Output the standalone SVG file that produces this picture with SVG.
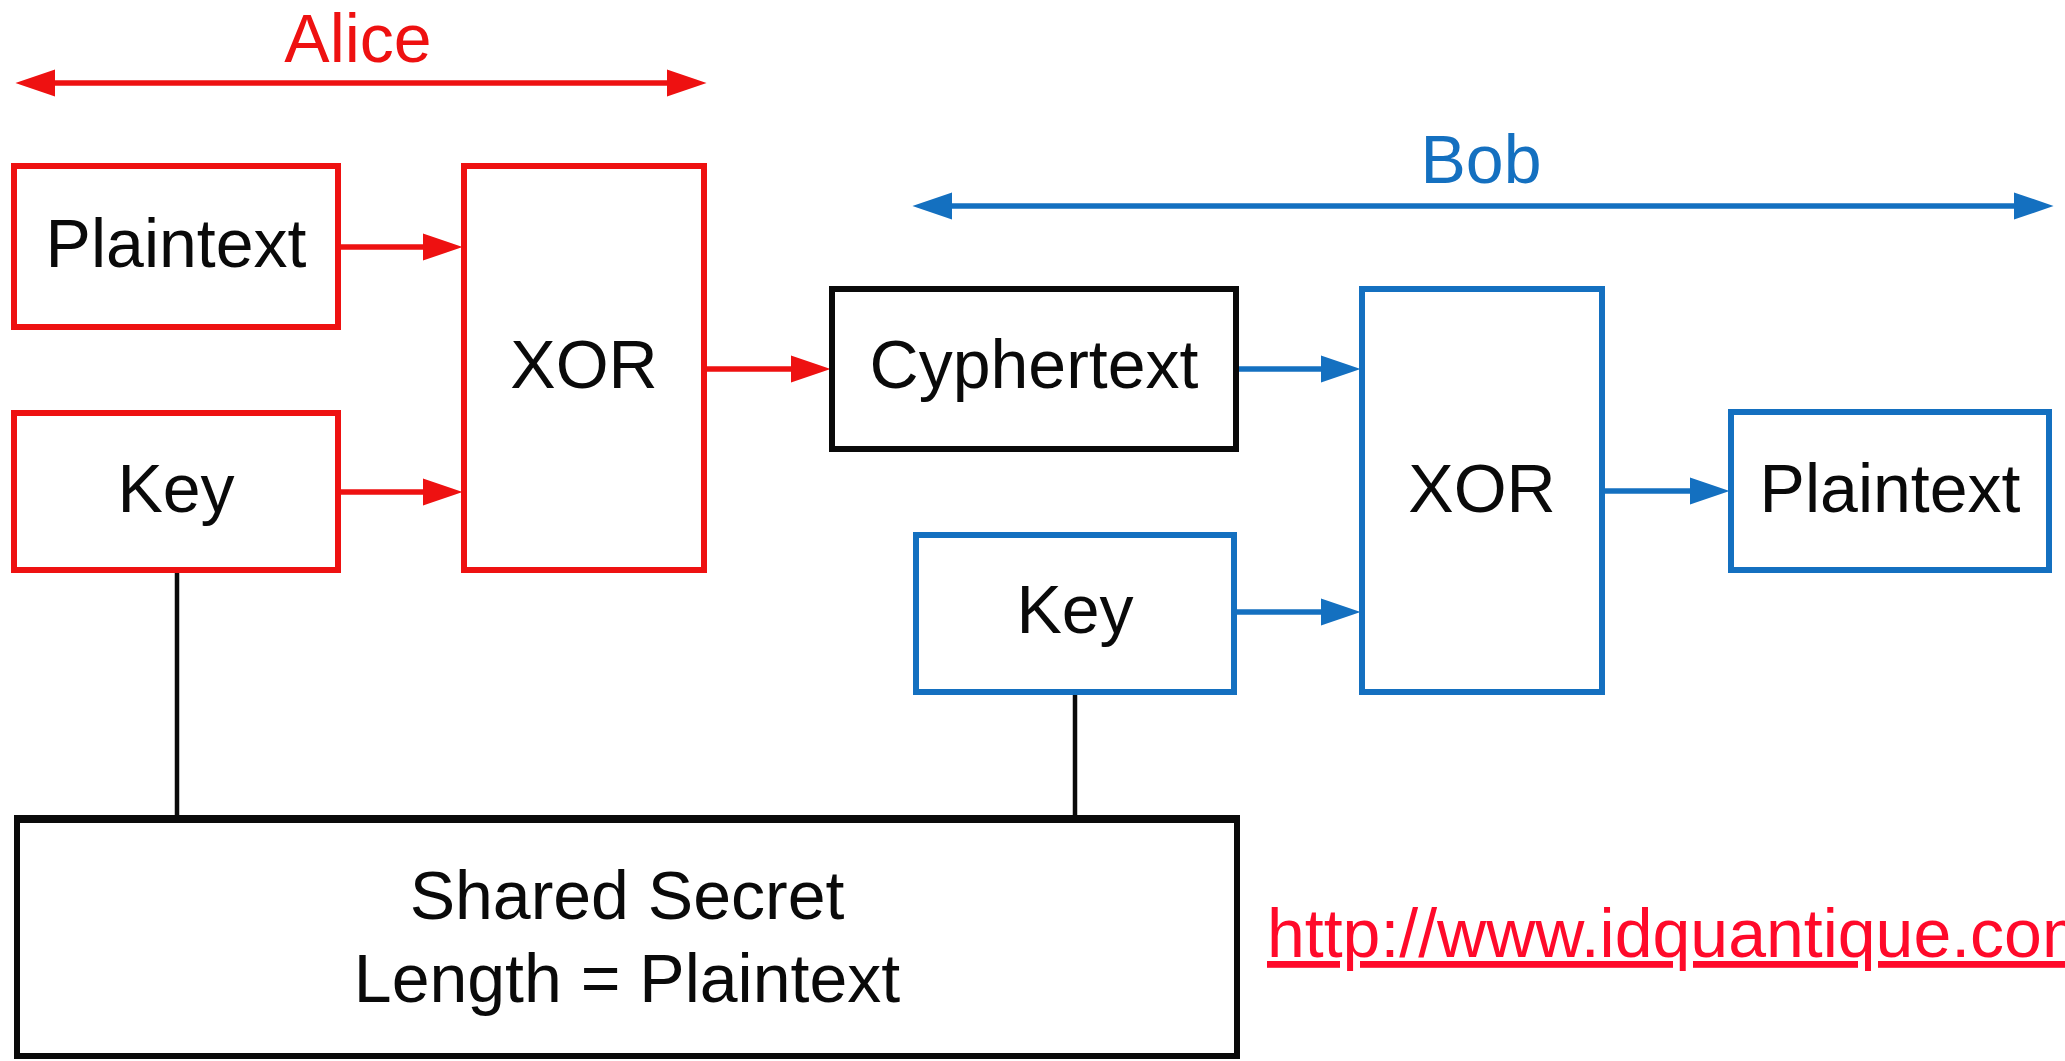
<svg xmlns="http://www.w3.org/2000/svg" width="2065" height="1061" viewBox="0 0 2065 1061">
  <style>
    text { font-family: "Liberation Sans", Arial, sans-serif; font-size: 68px; text-anchor: middle; fill: #0a0a0a; }
    .box { fill: #fff; stroke-width: 6; }
    .red { stroke: #ee1111; }
    .blue { stroke: #1470c0; }
    .black { stroke: #0a0a0a; }
    .lnk { fill: none; stroke-width: 5.5; }
    .tie { fill: none; stroke: #0a0a0a; stroke-width: 4.5; }
  </style>
  <defs>
    <!-- heads overhang the line end by 30px so the stroke never shows past the tip -->
    <marker id="headRed" markerUnits="userSpaceOnUse" markerWidth="40" markerHeight="28" viewBox="0 0 38 26" refX="8" refY="13" orient="auto-start-reverse">
      <path d="M0,0 L38,13 L0,26 Z" fill="#ee1111"/>
    </marker>
    <marker id="headBlue" markerUnits="userSpaceOnUse" markerWidth="40" markerHeight="28" viewBox="0 0 38 26" refX="8" refY="13" orient="auto-start-reverse">
      <path d="M0,0 L38,13 L0,26 Z" fill="#1470c0"/>
    </marker>
  </defs>
  <rect width="2065" height="1061" fill="#fff"/>

  <!-- party ranges -->
  <g id="alice-range">
    <line x1="47" y1="83" x2="675" y2="83" class="lnk red" marker-start="url(#headRed)" marker-end="url(#headRed)"/>
    <text x="358" y="62" style="fill:#ee1111">Alice</text>
  </g>
  <g id="bob-range">
    <line x1="944" y1="206" x2="2022" y2="206" class="lnk blue" marker-start="url(#headBlue)" marker-end="url(#headBlue)"/>
    <text x="1481" y="183" style="fill:#1470c0">Bob</text>
  </g>

  <!-- connectors -->
  <g id="connectors">
    <line x1="341" y1="247" x2="431" y2="247" class="lnk red" marker-end="url(#headRed)"/>
    <line x1="341" y1="492" x2="431" y2="492" class="lnk red" marker-end="url(#headRed)"/>
    <line x1="707" y1="369" x2="799" y2="369" class="lnk red" marker-end="url(#headRed)"/>
    <line x1="1239" y1="369" x2="1329" y2="369" class="lnk blue" marker-end="url(#headBlue)"/>
    <line x1="1237" y1="612" x2="1329" y2="612" class="lnk blue" marker-end="url(#headBlue)"/>
    <line x1="1605" y1="491" x2="1698" y2="491" class="lnk blue" marker-end="url(#headBlue)"/>
    <line x1="177" y1="573" x2="177" y2="817" class="tie"/>
    <line x1="1075" y1="695" x2="1075" y2="817" class="tie"/>
  </g>

  <!-- Alice side -->
  <g id="alice-plaintext">
    <rect x="14" y="166" width="324" height="161" class="box red"/>
    <text x="176" y="267">Plaintext</text>
  </g>
  <g id="alice-key">
    <rect x="14" y="413" width="324" height="157" class="box red"/>
    <text x="176" y="512">Key</text>
  </g>
  <g id="alice-xor">
    <rect x="464" y="166" width="240" height="404" class="box red"/>
    <text x="584" y="388">XOR</text>
  </g>

  <g id="cyphertext">
    <rect x="832" y="289" width="404" height="160" class="box black"/>
    <text x="1034" y="388">Cyphertext</text>
  </g>

  <!-- Bob side -->
  <g id="bob-key">
    <rect x="916" y="535" width="318" height="157" class="box blue"/>
    <text x="1075" y="633">Key</text>
  </g>
  <g id="bob-xor">
    <rect x="1362" y="289" width="240" height="403" class="box blue"/>
    <text x="1482" y="512">XOR</text>
  </g>
  <g id="bob-plaintext">
    <rect x="1731" y="412" width="318" height="158" class="box blue"/>
    <text x="1890" y="512">Plaintext</text>
  </g>

  <g id="shared-secret">
    <rect x="17" y="820" width="1220" height="236" class="box black"/>
    <line x1="14" y1="819" x2="1240" y2="819" stroke="#0a0a0a" stroke-width="8"/>
    <text x="627" y="919">Shared Secret</text>
    <text x="627" y="1002">Length = Plaintext</text>
  </g>

  <g id="source-link">
    <text x="1267" y="957" style="text-anchor:start;fill:#ff0a2a;text-decoration:underline">http://www.idquantique.com</text>
  </g>
</svg>
